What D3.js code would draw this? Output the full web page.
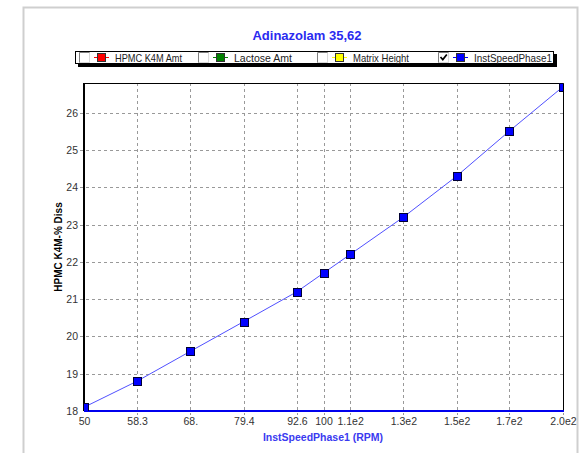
<!DOCTYPE html>
<html lang="en">
<head>
    <meta charset="utf-8">
    <title>Adinazolam 35,62</title>
    <script src="https://cdn.jsdelivr.net/npm/d3@7/dist/d3.min.js"></script>
    <style>
        body { margin: 0; background: #fff; }
        svg { display: block; font-family: "Liberation Sans", Arial, sans-serif; }
    </style>
</head>
<body>
<script>
    // data
    const speeds = [50, 58.3, 68.0, 79.4, 92.6, 100, 108, 126, 147, 171, 200];
    const diss = [18.1, 18.8, 19.6, 20.4, 21.2, 21.7, 22.2, 23.2, 24.3, 25.5, 26.7];
    const xTicks = [50, 58.3, 68.0, 79.4, 92.6, 100, 108, 126, 147, 171, 200];
    const xTickLabels = ["50", "58.3", "68.", "79.4", "92.6", "100", "1.1e2", "1.3e2", "1.5e2", "1.7e2", "2.0e2"];
    const yTicks = [18, 19, 20, 21, 22, 23, 24, 25, 26];
    const legendNames = ["HPMC K4M Amt", "Lactose Amt", "Matrix Height", "InstSpeedPhase1"];
    const legendColors = ["#ff0000", "#008000", "#ffff00", "#0000ff"];
    const legendChecked = [false, false, false, true];

    const W = 582, H = 453;
    const plot = {left: 84, top: 83, right: 563, bottom: 411};

    const svg = d3.select("body").append("svg").attr("width", W).attr("height", H);

    // outer panel
    svg.append("rect")
        .attr("x", 23.5).attr("y", 7.5).attr("width", 554).attr("height", 460)
        .attr("fill", "#fff").attr("stroke", "#cfcfcf").attr("stroke-width", 2);

    const x = d3.scaleLog().domain([50, 200]).range([plot.left, plot.right]);
    const y = d3.scaleLinear().domain([18, 26.8]).range([plot.bottom, plot.top]);

    // title
    svg.append("text")
        .attr("x", 307).attr("y", 40)
        .attr("text-anchor", "middle")
        .style("font-size", "13px").style("font-weight", "bold")
        .attr("fill", "#2a2af0")
        .text("Adinazolam 35,62");

    // legend
    const lg = svg.append("g");
    lg.append("rect").attr("x", 78).attr("y", 54).attr("width", 479).attr("height", 13).attr("fill", "#000");
    lg.append("rect").attr("x", 75.5).attr("y", 51.5).attr("width", 478).attr("height", 12)
        .attr("fill", "#fff").attr("stroke", "#000").attr("stroke-width", 1);
    const legendX = [79, 198, 317, 438];
    const legendW = [67, 58, 56, 78];
    legendNames.forEach((name, i) => {
        const item = lg.append("g").attr("transform", `translate(${legendX[i]},0)`);
        item.append("rect").attr("x", 0.5).attr("y", 52.5).attr("width", 10).attr("height", 10)
            .attr("fill", "#fff").attr("stroke", "#d8d8d8");
        item.append("path").attr("d", "M0.5,62.5 V52.5 H10.5")
            .attr("fill", "none").attr("stroke", "#808080");
        if (legendChecked[i]) {
            item.append("path").attr("d", "M2.5,57 L4.8,59.6 L8.8,54.5")
                .attr("fill", "none").attr("stroke", "#000").attr("stroke-width", 1.7);
        }
        item.append("line").attr("x1", 15).attr("x2", 30).attr("y1", 57.5).attr("y2", 57.5)
            .attr("stroke", legendColors[i]);
        item.append("rect").attr("x", 18.5).attr("y", 53.5).attr("width", 8).attr("height", 8)
            .attr("fill", legendColors[i]).attr("stroke", "#333");
        item.append("text").attr("x", 36).attr("y", 61.5)
            .style("font-size", "10.5px").attr("fill", "#222")
            .attr("textLength", legendW[i]).attr("lengthAdjust", "spacingAndGlyphs")
            .text(name);
    });

    // grid
    const grid = svg.append("g").attr("stroke", "#999").attr("stroke-dasharray", "3,3");
    grid.selectAll(".vx").data(xTicks.slice(1)).enter().append("line")
        .attr("x1", d => Math.round(x(d)) + 0.5).attr("x2", d => Math.round(x(d)) + 0.5)
        .attr("y1", plot.top).attr("y2", plot.bottom + 4);
    grid.selectAll(".hy").data(yTicks.slice(1)).enter().append("line")
        .attr("x1", plot.left - 4).attr("x2", plot.right)
        .attr("y1", d => Math.round(y(d)) + 0.5).attr("y2", d => Math.round(y(d)) + 0.5);

    // frame
    svg.append("path")
        .attr("d", `M${plot.left},${plot.top + 0.5} H${plot.right + 0.5} V${plot.bottom}`)
        .attr("fill", "none").attr("stroke", "#000");
    svg.append("line")
        .attr("x1", plot.left).attr("x2", plot.left).attr("y1", plot.top).attr("y2", plot.bottom)
        .attr("stroke", "#000").attr("stroke-width", 2);
    svg.append("line")
        .attr("x1", plot.left).attr("x2", plot.right + 1).attr("y1", plot.bottom).attr("y2", plot.bottom)
        .attr("stroke", "#0000ee").attr("stroke-width", 2);

    // axes labels
    const xAxis = d3.axisBottom(x).tickValues(xTicks)
        .tickFormat((d, i) => xTickLabels[i]).tickSize(0).tickPadding(6);
    const gx = svg.append("g").attr("transform", `translate(0,${plot.bottom + 1})`).call(xAxis);
    gx.select(".domain").remove();
    gx.selectAll("text").style("font-size", "10.5px").attr("fill", "#333").style("font-family", "inherit");

    const yAxis = d3.axisLeft(y).tickValues(yTicks).tickSize(0).tickPadding(6);
    const gy = svg.append("g").attr("transform", `translate(${plot.left},0)`).call(yAxis);
    gy.select(".domain").remove();
    gy.selectAll("text").style("font-size", "10.5px").attr("fill", "#333").style("font-family", "inherit");

    svg.append("text")
        .attr("x", 323).attr("y", 441).attr("text-anchor", "middle")
        .style("font-size", "10.5px").style("font-weight", "bold").attr("fill", "#3a3af0")
        .text("InstSpeedPhase1 (RPM)");

    svg.append("text")
        .attr("transform", `translate(62,247) rotate(-90)`)
        .attr("text-anchor", "middle")
        .style("font-size", "10px").style("font-weight", "bold").attr("fill", "#000")
        .text("HPMC K4M-% Diss");

    // series
    svg.append("clipPath").attr("id", "clip").append("rect")
        .attr("x", plot.left).attr("y", plot.top)
        .attr("width", plot.right - plot.left).attr("height", plot.bottom - plot.top);

    const pts = speeds.map((s, i) => [s, diss[i]]);
    const series = svg.append("g").attr("clip-path", "url(#clip)");
    series.append("path")
        .datum(pts)
        .attr("d", d3.line().x(d => x(d[0])).y(d => y(d[1])))
        .attr("fill", "none").attr("stroke", "#5050ff").attr("stroke-width", 1);
    series.selectAll(".pt").data(pts).enter().append("rect")
        .attr("x", d => Math.round(x(d[0])) - 3.5).attr("y", d => Math.round(y(d[1])) - 3.5)
        .attr("width", 8).attr("height", 8)
        .attr("fill", "#0000ff").attr("stroke", "#000033");
</script>
</body>
</html>
